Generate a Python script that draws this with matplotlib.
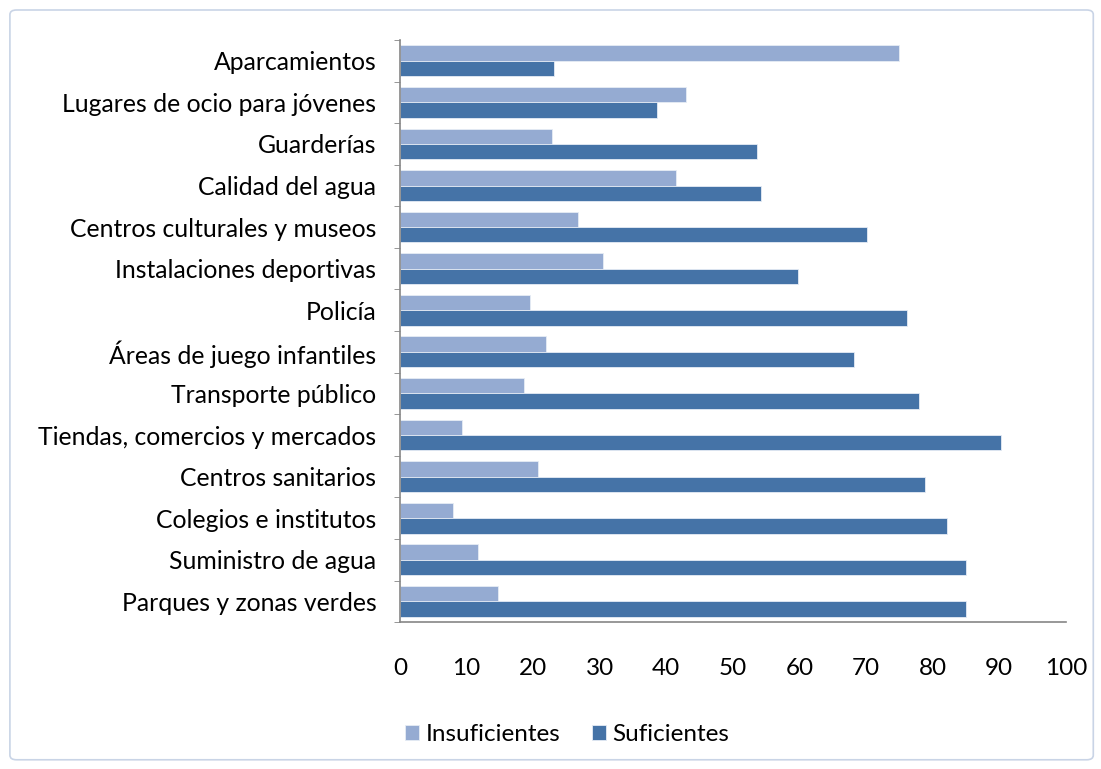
import numpy as np
import matplotlib
matplotlib.use("Agg")
import matplotlib.pyplot as plt
from matplotlib.patches import FancyBboxPatch

categorias = ["Aparcamientos", "Lugares de ocio para jóvenes", "Guarderías",
              "Calidad del agua", "Centros culturales y museos",
              "Instalaciones deportivas", "Policía", "Áreas de juego infantiles",
              "Transporte público", "Tiendas, comercios y mercados",
              "Centros sanitarios", "Colegios e institutos",
              "Suministro de agua", "Parques y zonas verdes"]
insuficientes = [75.0, 43.0, 22.9, 41.4, 26.8, 30.5, 19.5, 22.0, 18.6, 9.3, 20.7, 8.0, 11.7, 14.7]
suficientes = [23.2, 38.6, 53.6, 54.2, 70.2, 59.8, 76.1, 68.2, 78.0, 90.3, 78.8, 82.1, 85.0, 85.0]

plt.rcParams['font.family'] = ['Lato', 'DejaVu Sans']

fig = plt.figure(figsize=(11.01, 7.69), dpi=100)
ax = fig.add_axes([0.3633, 0.191, 0.6047, 0.757])

# marco exterior
marco = FancyBboxPatch((0.009, 0.012), 0.984, 0.975, boxstyle="round,pad=0,rounding_size=0.006",
                       transform=fig.transFigure, facecolor="none", edgecolor="#c9d4e6", lw=1.2)
fig.patches.append(marco)

y = np.arange(len(categorias))
h = 0.37
ax.barh(y - h / 2, insuficientes, height=h, color="#95abd2", edgecolor="#e6ecf5", lw=0.6, label="Insuficientes")
ax.barh(y + h / 2, suficientes, height=h, color="#4573a7", edgecolor="#e6ecf5", lw=0.6, label="Suficientes")

ax.set_ylim(len(categorias) - 0.5, -0.5)
ax.set_xlim(0, 100)
ax.set_yticks(y)
ax.set_yticklabels(categorias, fontsize=17.8)
ax.set_yticks(np.arange(-0.5, len(categorias), 1), minor=True)
ax.tick_params(axis="y", which="major", length=0, pad=17)
ax.tick_params(axis="y", which="minor", length=4, color="#868686")
ax.set_xticks(range(0, 101, 10))
ax.tick_params(axis="x", length=0, pad=26, labelsize=17.5)

for s in ["top", "right"]:
    ax.spines[s].set_visible(False)
for s in ["left", "bottom"]:
    ax.spines[s].set_color("#868686")
    ax.spines[s].set_linewidth(1.2)

fig.legend(loc="lower center", bbox_to_anchor=(0.515, 0.003), ncol=2, frameon=False,
           fontsize=17.5, handlelength=0.6, handleheight=0.6, handletextpad=0.25, columnspacing=1.3)

fig.savefig("out.png", dpi=100)
